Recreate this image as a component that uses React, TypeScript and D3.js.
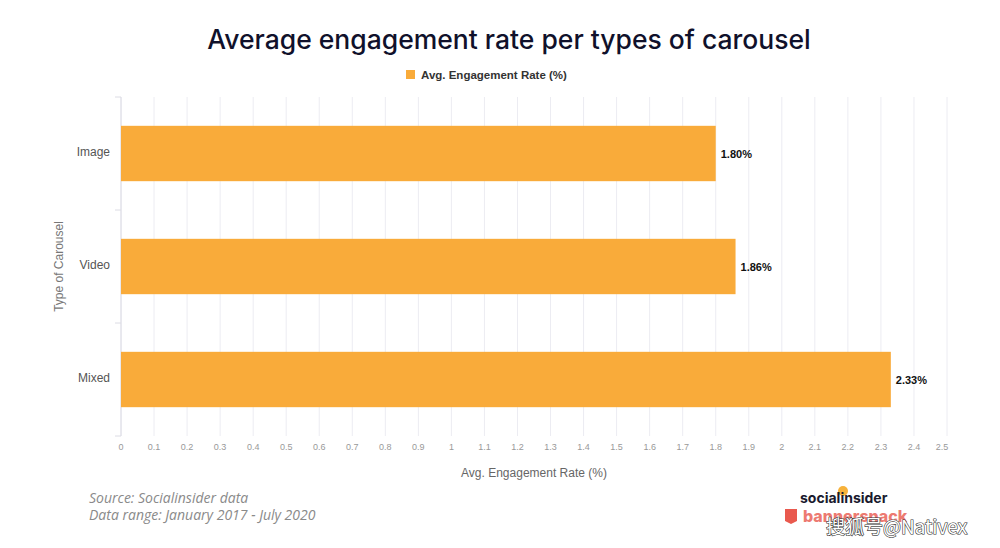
import { useEffect, useRef } from 'react'
import * as d3 from 'd3'

const categories = ['Image', 'Video', 'Mixed']
const rates = [1.8, 1.86, 2.33]
const rateLabels = ['1.80%', '1.86%', '2.33%']
const xTicks = d3.range(0, 26).map(i => i / 10)

const W = 1000
const H = 548

export default function App() {
  const svgRef = useRef<SVGSVGElement>(null)

  useEffect(() => {
    if (!svgRef.current) return
    const svg = d3.select(svgRef.current)
    svg.selectAll('*').remove()

    const left = 121
    const right = 947
    const top = 97
    const bottom = 436

    const x = d3.scaleLinear().domain([0, 2.5]).range([left, right])
    const y = d3.scaleBand().domain(categories).range([top, bottom]).paddingInner(0.51).paddingOuter(0.255)
    const outer = d3.scaleBand().domain(categories).range([top, bottom])

    svg.append('rect').attr('width', W).attr('height', H).attr('fill', '#fff')

    // Title
    svg.append('text')
      .attr('x', 509).attr('y', 49)
      .attr('text-anchor', 'middle')
      .attr('font-family', 'Inter, "Open Sans", sans-serif')
      .attr('font-size', '26.5px').attr('font-weight', 500).attr('fill', '#10112b')
      .text('Average engagement rate per types of carousel')

    // Legend
    svg.append('rect').attr('x', 406).attr('y', 70).attr('width', 9).attr('height', 9).attr('fill', '#f9ab3a')
    svg.append('text')
      .attr('x', 421).attr('y', 79)
      .attr('font-family', '"Liberation Sans", Arial, sans-serif')
      .attr('font-size', '11.5px').attr('font-weight', 'bold').attr('fill', '#333')
      .text('Avg. Engagement Rate (%)')

    // Grid
    svg.append('g')
      .selectAll('line')
      .data(xTicks)
      .join('line')
      .attr('x1', d => x(d)).attr('x2', d => x(d))
      .attr('y1', top).attr('y2', bottom)
      .attr('stroke', '#ececf2').attr('stroke-width', 1)

    // Y axis line + ticks
    svg.append('line')
      .attr('x1', left).attr('x2', left).attr('y1', top).attr('y2', bottom)
      .attr('stroke', '#dcdce4')
    const bounds = [...categories.map(c => outer(c) as number), bottom]
    svg.append('g')
      .selectAll('line')
      .data(bounds)
      .join('line')
      .attr('x1', left - 6).attr('x2', left)
      .attr('y1', d => d).attr('y2', d => d)
      .attr('stroke', '#dcdce4')

    // Bars
    svg.append('g')
      .selectAll('rect')
      .data(rates)
      .join('rect')
      .attr('x', x(0))
      .attr('y', (_, i) => y(categories[i]) as number)
      .attr('width', d => x(d) - x(0))
      .attr('height', y.bandwidth())
      .attr('fill', '#f9ab3a')

    // Value labels
    svg.append('g')
      .selectAll('text')
      .data(rates)
      .join('text')
      .attr('x', d => x(d) + 5)
      .attr('y', (_, i) => (y(categories[i]) as number) + y.bandwidth() / 2 + 4)
      .attr('font-family', '"Liberation Sans", Arial, sans-serif')
      .attr('font-size', '11px').attr('font-weight', 'bold').attr('fill', '#111')
      .text((_, i) => rateLabels[i])

    // Category labels
    svg.append('g')
      .selectAll('text')
      .data(categories)
      .join('text')
      .attr('x', 110)
      .attr('y', d => (y(d) as number) + y.bandwidth() / 2 + 2)
      .attr('text-anchor', 'end')
      .attr('font-family', '"Liberation Sans", Arial, sans-serif')
      .attr('font-size', '12px').attr('fill', '#555')
      .text(d => d)

    // X tick labels
    svg.append('g')
      .selectAll('text')
      .data(xTicks)
      .join('text')
      .attr('x', d => x(d) - (d === 2.5 ? 5 : 0))
      .attr('y', 450)
      .attr('text-anchor', 'middle')
      .attr('font-family', '"Liberation Sans", Arial, sans-serif')
      .attr('font-size', '9px').attr('fill', '#999')
      .text(d => d3.format('~g')(d))

    // Axis titles
    svg.append('text')
      .attr('x', 534).attr('y', 477)
      .attr('text-anchor', 'middle')
      .attr('font-family', '"Liberation Sans", Arial, sans-serif')
      .attr('font-size', '12px').attr('fill', '#666')
      .text('Avg. Engagement Rate (%)')
    svg.append('text')
      .attr('transform', `translate(63,${(top + bottom) / 2}) rotate(-90)`)
      .attr('text-anchor', 'middle')
      .attr('font-family', '"Liberation Sans", Arial, sans-serif')
      .attr('font-size', '12px').attr('fill', '#777')
      .text('Type of Carousel')

    // Source
    const src = svg.append('g')
      .attr('font-family', '"Open Sans", sans-serif')
      .attr('font-size', '14px').attr('font-style', 'italic').attr('fill', '#8a8a8a')
    src.append('text').attr('x', 89).attr('y', 503).text('Source: Socialinsider data')
    src.append('text').attr('x', 89).attr('y', 520).text('Data range: January 2017 - July 2020')

    // Logos
    svg.append('circle').attr('cx', 843).attr('cy', 491).attr('r', 5).attr('fill', '#f7b23b')
    svg.append('text')
      .attr('x', 800).attr('y', 503)
      .attr('font-family', 'Inter, sans-serif')
      .attr('font-size', '14px').attr('font-weight', 700).attr('fill', '#1a1a2e')
      .text('socialinsider')
    svg.append('path')
      .attr('d', 'M785,509 L797,509 L797,521 L791,524 L785,521 Z')
      .attr('fill', '#e9594e')
    svg.append('text')
      .attr('x', 803).attr('y', 522)
      .attr('font-family', 'Inter, sans-serif')
      .attr('font-size', '16px').attr('font-weight', 800).attr('fill', '#e9594e').attr('opacity', 0.8)
      .text('bannersnack')
    svg.append('text')
      .attr('x', 826).attr('y', 534)
      .attr('font-family', '"Noto Sans CJK SC", sans-serif')
      .attr('font-size', '19px').attr('fill', '#fff')
      .attr('stroke', '#333').attr('stroke-width', 1.2).attr('paint-order', 'stroke')
      .text('搜狐号@Nativex')
  }, [])

  return <svg ref={svgRef} width={W} height={H} style={{ display: 'block', margin: '-8px' }} />
}
